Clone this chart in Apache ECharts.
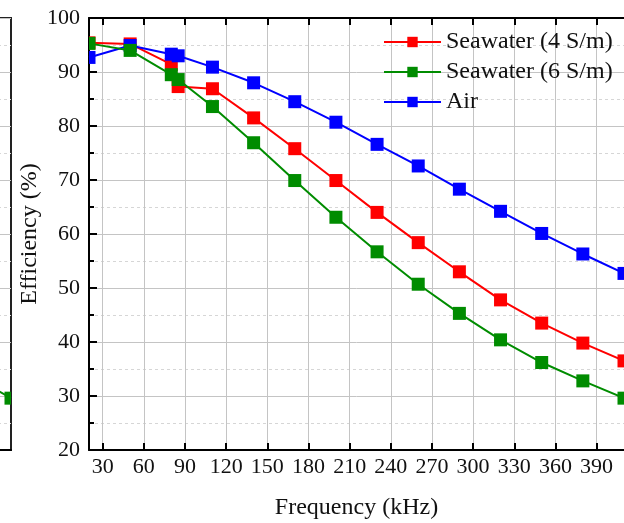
<!DOCTYPE html>
<html>
<head>
<meta charset="utf-8">
<script src="https://cdn.jsdelivr.net/npm/echarts@6/dist/echarts.min.js"></script>
<style>
  html, body { margin: 0; padding: 0; background: #fff; }
  #chart { width: 624px; height: 523px; }
</style>
</head>
<body>
<div id="chart"></div>
<script>
// Frequency sweep (kHz) and measured efficiency (%) for each medium
const freqKHz   = [20, 50, 80, 85, 110, 140, 170, 200, 230, 260, 290, 320, 350, 380, 410];
const seawater4 = [95.4, 95.2, 91.4, 87.3, 86.9, 81.5, 75.8, 69.9, 64.0, 58.4, 53.0, 47.8, 43.5, 39.8, 36.5];
const seawater6 = [95.3, 94.0, 89.5, 88.6, 83.6, 76.9, 69.9, 63.1, 56.7, 50.7, 45.3, 40.4, 36.2, 32.8, 29.6];
const air       = [92.7, 94.9, 93.3, 93.0, 90.9, 88.0, 84.5, 80.7, 76.6, 72.6, 68.3, 64.2, 60.1, 56.3, 52.7];

const xTicks = [30, 60, 90, 120, 150, 180, 210, 240, 270, 300, 330, 360, 390];
const yTicks = { min: 20, max: 100, step: 10 };
const xRange = { min: 20, max: 410 };

const seriesNames = ['Seawater (4 S/m)', 'Seawater (6 S/m)', 'Air'];
const seriesColors = { 'Seawater (4 S/m)': '#ff0000', 'Seawater (6 S/m)': '#008c00', 'Air': '#0000ff' };

const FONT = 'Liberation Serif';
const MARK = 13;

// Markers sitting on a frame edge are cut in half by the frame
function points(values, cutLeft, cutRight) {
  return freqKHz.map((f, i) => {
    const item = { value: [f, values[i]] };
    if (cutLeft && f === xRange.min) {
      item.symbolSize = [MARK / 2, MARK];
      item.symbolOffset = [MARK / 4, 0];
    }
    if (cutRight && f === xRange.max) {
      item.symbolSize = [MARK / 2, MARK];
      item.symbolOffset = [-MARK / 4, 0];
    }
    return item;
  });
}

function lineSeries(name, values, z, xIdx, yIdx, cutLeft, cutRight) {
  return {
    name: name,
    type: 'line',
    xAxisIndex: xIdx,
    yAxisIndex: yIdx,
    data: points(values, cutLeft, cutRight),
    symbol: 'rect',
    symbolSize: MARK,
    z: z,
    color: seriesColors[name],
    lineStyle: { width: 2, color: seriesColors[name] },
    itemStyle: { color: seriesColors[name] },
    emphasis: { disabled: true },
    animation: false
  };
}

const gridLine = { show: true, lineStyle: { color: '#c4c4c4', width: 1 } };
const minorGridLine = { show: true, lineStyle: { color: '#d6d6d6', width: 1, type: [3, 3] } };
const tickLabel = { fontFamily: FONT, fontSize: 22, color: '#111' };

function valueXAxis(gridIndex, position, withLabels) {
  return {
    type: 'value',
    gridIndex: gridIndex,
    position: position,
    min: xRange.min,
    max: xRange.max,
    axisLine: { show: true, onZero: false, lineStyle: { color: '#000', width: 2 } },
    axisTick: { show: true, inside: true, length: 7, customValues: xTicks, lineStyle: { color: '#000', width: 2 } },
    axisLabel: { show: withLabels, margin: 6, customValues: xTicks, hideOverlap: false, ...tickLabel },
    splitLine: position === 'bottom' ? gridLine : { show: false },
    minorSplitLine: { show: false }
  };
}

function valueYAxis(gridIndex, withLabels) {
  return {
    type: 'value',
    gridIndex: gridIndex,
    min: yTicks.min,
    max: yTicks.max,
    interval: yTicks.step,
    axisLine: { show: true, onZero: false, lineStyle: { color: '#000', width: 2 } },
    axisTick: { show: true, inside: true, length: 8, lineStyle: { color: '#000', width: 2 } },
    minorTick: { show: true, splitNumber: 2, length: 5, lineStyle: { color: '#000', width: 2 } },
    axisLabel: { show: withLabels, margin: 9, ...tickLabel },
    splitLine: gridLine,
    minorSplitLine: minorGridLine
  };
}

const chart = echarts.init(document.getElementById('chart'), null, { renderer: 'canvas' });

const mainX = valueXAxis(0, 'bottom', true);
mainX.name = 'Frequency (kHz)';
mainX.nameLocation = 'middle';
mainX.nameGap = 46;
mainX.nameMoveOverlap = false;
mainX.nameTextStyle = { fontFamily: FONT, fontSize: 24, color: '#111' };

const mainY = valueYAxis(0, true);
mainY.name = 'Efficiency (%)';
mainY.nameLocation = 'middle';
mainY.nameGap = 47;
mainY.nameMoveOverlap = false;
mainY.nameTextStyle = { fontFamily: FONT, fontSize: 24, color: '#111' };

// Neighbouring panel to the left, only its right edge falls inside the page
const sideX = valueXAxis(1, 'bottom', true);
const sideY = valueYAxis(1, false);
sideY.axisLine.show = false;
sideY.axisTick.show = false;
sideY.minorTick.show = false;

chart.setOption({
  backgroundColor: '#ffffff',
  animation: false,
  grid: [
    { left: 89, top: 18, right: 0, bottom: 73, containLabel: false, outerBoundsMode: 'none' },
    { left: -380, top: 18, width: 391, bottom: 73, containLabel: false, outerBoundsMode: 'none',
      show: true, borderColor: '#222', borderWidth: 2, backgroundColor: 'transparent' }
  ],
  xAxis: [mainX, valueXAxis(0, 'top', false), sideX],
  yAxis: [mainY, sideY],
  legend: {
    data: seriesNames,
    orient: 'vertical',
    left: 383,
    top: 30,
    padding: 0,
    itemWidth: 57,
    itemHeight: 13,
    itemGap: 6,
    selectedMode: false,
    textStyle: { fontFamily: FONT, fontSize: 24, lineHeight: 24, color: '#111' }
  },
  series: [
    lineSeries('Seawater (4 S/m)', seawater4, 2, 0, 0, true, false),
    lineSeries('Air', air, 3, 0, 0, true, false),
    lineSeries('Seawater (6 S/m)', seawater6, 4, 0, 0, true, false),
    lineSeries('Seawater (6 S/m)', seawater6, 4, 2, 1, false, true)
  ]
});
</script>
</body>
</html>
